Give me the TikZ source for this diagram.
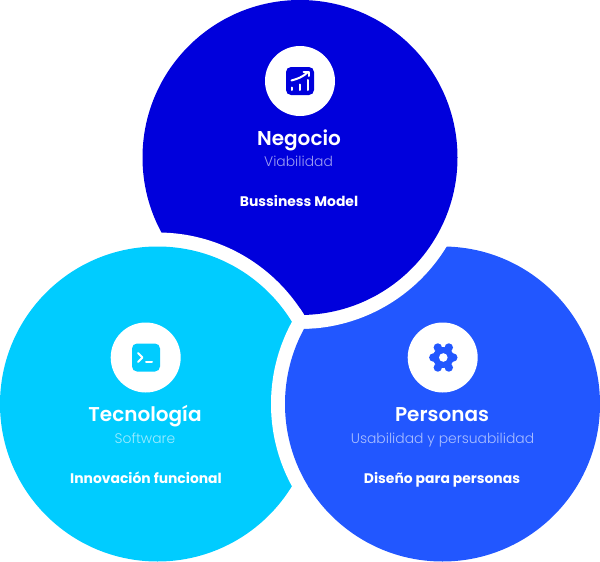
\documentclass[tikz,border=0pt]{standalone}
\usepackage{fontspec}
\setmainfont{Poppins}
\newfontfamily\pTitle{Poppins SemiBold}
\newfontfamily\pSub{Poppins Light}
\newfontfamily\pStrong{Poppins Bold}
\definecolor{cTop}{HTML}{0000DC}
\definecolor{cLeft}{HTML}{00CCFF}
\definecolor{cRight}{HTML}{2257FF}
\tikzset{
  titlelabel/.style={text=white,font=\pTitle\fontsize{20}{22}\selectfont,inner sep=0pt,anchor=base},
  sublabel/.style={text=white,font=\pSub\fontsize{13.9}{15}\selectfont,inner sep=0pt,anchor=base},
  boldlabel/.style={text=white,font=\pStrong\fontsize{13.9}{15}\selectfont,inner sep=0pt,anchor=base},
  iconglyph/.style={line width=2pt,draw=white,line cap=round,line join=round,fill=none},
}
\begin{document}
\begin{tikzpicture}[x=1pt,y=-1pt]
\useasboundingbox (0,0) rectangle (600,562);
\def\rr{157.5}\def\hh{171.5}\def\hx{172.8}
\coordinate (T) at (300,157.5);
\coordinate (L) at (157.5,404);
\coordinate (R) at (442.5,404);
% right disc
\fill[cRight] (R) circle[radius=\rr];
% top disc over it, with its white halo
\fill[white] (T) circle[radius=\hh];
\fill[cTop] (T) circle[radius=\rr];
% left disc over that, with its white halo
\fill[white] (L) circle[radius=\hh];
\fill[cLeft] (L) circle[radius=\rr];
% right disc again over the left one, closing the cycle
\begin{scope}
 \clip (L) circle[radius=\hh];
 \fill[white] (R) circle[radius=\hh];
\end{scope}
\begin{scope}
 \clip (L) circle[radius=\hx];
 \begin{scope}[even odd rule]
  \clip (-10,-10) rectangle (610,572) (T) circle[radius=\hh];
  \fill[cRight] (R) circle[radius=\rr];
 \end{scope}
\end{scope}
% icon: chart
\fill[white] (300,81) circle[radius=35];
\fill[cTop,rounded corners=5pt] (286,67) rectangle (314,95);
\begin{scope}[shift={(300,81)}]
 \draw[iconglyph] (-8,9) -- (-8,6.5);
 \draw[iconglyph] (0,9) -- (0,3.5);
 \draw[iconglyph] (7.5,9) -- (7.5,-1);
 \draw[iconglyph] (-8.5,-0.5) .. controls (-3,-2) and (3,-4) .. (8,-9);
 \draw[iconglyph] (3.5,-9.5) -- (8.5,-9.5) -- (8.5,-5);
\end{scope}
% icon: terminal
\fill[white] (145.7,357.5) circle[radius=35];
\fill[cLeft,rounded corners=5pt] (132,343.5) rectangle (160,371.5);
\begin{scope}[shift={(146,357.5)}]
 \draw[iconglyph] (-8,-4.5) -- (-3.5,0) -- (-8,4.5);
 \draw[iconglyph] (0,4.5) -- (6,4.5);
\end{scope}
% icon: gear
\fill[white] (442.7,357.5) circle[radius=35];
\begin{scope}[shift={(443.3,357.5)}]
 \fill[cRight] (0,0) circle[radius=10.5];
 \foreach \px/\py in {5.5/-10,-5.5/-10,5.5/10,-5.5/10,10/0,-10/0}{
  \fill[cRight] (\px,\py) circle[radius=4.2];
 }
 \fill[white] (0,0) circle[radius=4.3];
\end{scope}
% labels
\node[titlelabel] (negocio) at (299,145) {Negocio};
\node[sublabel,text=white!62!cTop] (viab) at (298.5,166) {Viabilidad};
\node[boldlabel] (bm) at (299,206) {Bussiness Model};
\node[titlelabel] (tec) at (145,421) {Tecnología};
\node[sublabel,text=white!62!cLeft] (soft) at (145,443) {Software};
\node[boldlabel] (inno) at (146,483) {Innovación funcional};
\node[titlelabel] (pers) at (442,421) {Personas};
\node[sublabel,text=white!62!cRight] (usab) at (442.5,443) {Usabilidad y persuabilidad};
\node[boldlabel] (dis) at (442,483) {Diseño para personas};
\end{tikzpicture}
\end{document}
